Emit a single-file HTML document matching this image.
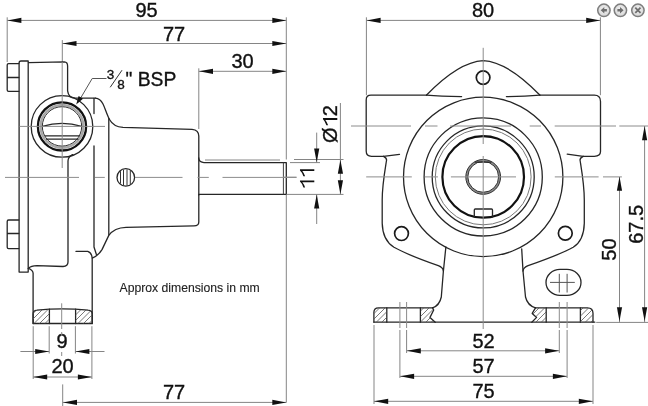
<!DOCTYPE html>
<html><head><meta charset="utf-8"><style>
html,body{margin:0;padding:0;background:#fff;width:648px;height:406px;overflow:hidden}
svg{display:block;filter:grayscale(1)}
.k{fill:none;stroke:#262626;stroke-width:1.3;stroke-linejoin:round;stroke-linecap:round}
.kb{fill:none;stroke:#1a1a1a;stroke-width:1.7}
.kt{fill:none;stroke:#111;stroke-width:2.6}
.kt2{fill:none;stroke:#111;stroke-width:2.3}
.kgb{fill:none;stroke:#a8a8a8;stroke-width:2.4}
.kgb2{fill:none;stroke:#8a8a8a;stroke-width:2.2}
.kgb3{fill:none;stroke:#b0b0b0;stroke-width:2.0}
.kt3{fill:none;stroke:#111;stroke-width:2.2}
.kg{fill:none;stroke:#777;stroke-width:1.0}
.k1{fill:none;stroke:#333;stroke-width:1.0}
.k2{fill:none;stroke:#444;stroke-width:1.0}
.d{fill:none;stroke:#858585;stroke-width:1.0}
.d2{fill:none;stroke:#555;stroke-width:1.0}
.c{fill:none;stroke:#8c8c8c;stroke-width:1.0}
.h{stroke:#555;stroke-width:0.8}
.a{fill:#111;stroke:none}
.t{font-family:"Liberation Sans",sans-serif;fill:#111;stroke:#111;stroke-width:0.35}
</style></head><body>
<svg width="648" height="406" viewBox="0 0 648 406">
<line class="d" x1="7.2" y1="17.3" x2="7.2" y2="62"/>
<line class="d" x1="7.2" y1="20.4" x2="286.3" y2="20.4"/>
<polygon class="a" points="7.40,20.40 21.40,17.80 21.40,23.00"/>
<polygon class="a" points="286.30,20.40 272.30,17.80 272.30,23.00"/>
<text class="t" x="146.5" y="17.4" font-size="20" text-anchor="middle">95</text>
<line class="d" x1="62.3" y1="40.1" x2="62.3" y2="62"/>
<line class="d" x1="62.3" y1="43.5" x2="286.3" y2="43.5"/>
<polygon class="a" points="62.50,43.50 76.50,40.90 76.50,46.10"/>
<polygon class="a" points="286.30,43.50 272.30,40.90 272.30,46.10"/>
<text class="t" x="174" y="40.7" font-size="20" text-anchor="middle">77</text>
<line class="d" x1="198.8" y1="68.3" x2="198.8" y2="129"/>
<line class="d" x1="198.8" y1="71.3" x2="286.3" y2="71.3"/>
<polygon class="a" points="199.00,71.30 213.00,68.70 213.00,73.90"/>
<polygon class="a" points="286.30,71.30 272.30,68.70 272.30,73.90"/>
<text class="t" x="242.5" y="68.2" font-size="20" text-anchor="middle">30</text>
<line class="d" x1="286.3" y1="17.3" x2="286.3" y2="159.5"/>
<line class="d" x1="286.3" y1="195" x2="286.3" y2="402.5"/>
<path class="k" d="M18.8,63.6 H8.6 Q7.2,63.6 7.2,65 V90 Q7.2,91.4 8.6,91.4 H18.8 M7.2,77.5 H18.8"/>
<path class="k" d="M18.8,220 H8.6 Q7.2,220 7.2,221.4 V247.2 Q7.2,248.6 8.6,248.6 H18.8 M7.2,233.5 H18.8"/>
<path class="k" d="M19.1,272.1 V63 Q19.1,61 21,61 H28.2 V272.1 Z"/>
<path class="k" d="M28.5,62.7 L64.4,61.8 Q67.6,62 67.6,66 V90.8 Q68.5,97.6 75,98.2 L95.5,98.1 "/>
<path class="k" d="M95.5,98.1 C99,98.2 101,100 103,104 C105,108 107,115 109.5,119.5 C112,124 116,127 123,127.4 L192,129.3 Q198.8,130 198.8,136 V158.7 Q199.5,162.5 204,162.6 H286.3 V194.4 H198.8 V222 Q198.8,225.8 194,225.9 L126,227.3 C119,227.5 113,229.5 108.8,235.4 L102,249.6 C100,253 96,256.5 92.2,258.2 V323.5"/>
<path class="k" d="M72.5,154.6 Q68,157 68,161 V262 Q68,266.3 63,266.5 L37,265.7 Q31,266 28.2,268.4"/>
<path class="k" d="M94,113.5 V98.5"/>
<path class="k" d="M94,146 V247 L96.4,254.5"/>
<path class="k" d="M108.8,118.5 V234.8"/>
<path class="k" d="M76,251.4 H87.8 Q91.5,252.5 92.2,258"/>
<path class="k" d="M28.5,268.4 Q32.6,270 33.1,273 V323.5"/>
<line class="k2" x1="283.4" y1="162.6" x2="283.4" y2="194.4"/>
<line class="k" x1="198.8" y1="158" x2="198.8" y2="195"/>
<line class="d" x1="205" y1="160" x2="280" y2="160"/>
<path class="k" d="M33.1,323.5 V314 Q33.1,310.5 37,310.2 Q62,307.5 88,310.2 Q92.2,310.5 92.2,314 V323.5 Z"/>
<path class="k" d="M49.4,309.2 V323.5 M75.6,309.2 V323.5"/>
<circle class="k" cx="62" cy="126.4" r="30.8"/>
<circle class="kt2" cx="62" cy="126.4" r="24.1"/>
<circle class="kgb" cx="62" cy="126.4" r="21.4"/>
<circle class="k1" cx="62" cy="126.4" r="19.7"/>
<path class="k" d="M42.3,126.4 Q62,120.5 81.7,126.4"/>
<path class="k" d="M45.4,135.8 H79.3 M46.6,139.1 H78"/>
<circle class="k" cx="125.8" cy="177.4" r="8.8"/>
<line class="k1" x1="120.5" y1="171.17504448412663" x2="120.5" y2="183.62495551587338"/>
<line class="k1" x1="123.5" y1="169.70588438976725" x2="123.5" y2="185.09411561023276"/>
<line class="k1" x1="127" y1="169.48220211291866" x2="127" y2="185.31779788708135"/>
<line class="k1" x1="130.3" y1="170.63759297577818" x2="130.3" y2="184.16240702422184"/>
<path class="d2" d="M106.5,78.5 H92.2 L78,102.5"/>
<polygon class="a" points="76.2,104.6 78.6,96.1 83.0,98.8"/>
<line class="c" x1="62.2" y1="62" x2="62.2" y2="168"/>
<line class="c" x1="19.5" y1="126.4" x2="105" y2="126.4"/>
<line class="c" x1="5" y1="177.4" x2="79" y2="177.4"/>
<line class="c" x1="95" y1="177.4" x2="104.8" y2="177.4"/>
<line class="c" x1="135" y1="177.4" x2="182.5" y2="177.4"/>
<line class="c" x1="197.5" y1="177.4" x2="208.8" y2="177.4"/>
<line class="c" x1="222.5" y1="177.4" x2="296.5" y2="177.4"/>
<line class="c" x1="61.7" y1="303.3" x2="61.7" y2="329"/>
<line class="d" x1="33.2" y1="326.2" x2="33.2" y2="379"/>
<line class="d" x1="49.2" y1="326.2" x2="49.2" y2="353.5"/>
<line class="d" x1="75.4" y1="326.2" x2="75.4" y2="353.5"/>
<line class="d" x1="91.9" y1="326.2" x2="91.9" y2="379"/>
<line class="d" x1="20.4" y1="351.5" x2="49.2" y2="351.5"/>
<polygon class="a" points="49.20,351.50 35.20,348.90 35.20,354.10"/>
<line class="d" x1="75.4" y1="351.5" x2="104.5" y2="351.5"/>
<polygon class="a" points="75.40,351.50 89.40,348.90 89.40,354.10"/>
<text class="t" x="62" y="348.2" font-size="20" text-anchor="middle">9</text>
<line class="d" x1="33.2" y1="377" x2="91.9" y2="377"/>
<polygon class="a" points="33.20,377.00 47.20,374.40 47.20,379.60"/>
<polygon class="a" points="91.90,377.00 77.90,374.40 77.90,379.60"/>
<text class="t" x="62.5" y="372.8" font-size="20" text-anchor="middle">20</text>
<line class="c" x1="61.7" y1="332" x2="61.7" y2="336"/>
<line class="c" x1="61.7" y1="352" x2="61.7" y2="356"/>
<line class="d" x1="62.7" y1="384.4" x2="62.7" y2="406"/>
<line class="d" x1="62.7" y1="402.4" x2="286.3" y2="402.4"/>
<polygon class="a" points="63.00,402.40 77.00,399.80 77.00,405.00"/>
<polygon class="a" points="286.30,402.40 272.30,399.80 272.30,405.00"/>
<text class="t" x="174" y="399.3" font-size="20" text-anchor="middle">77</text>
<text class="t" x="119.5" y="292" font-size="12.2" style="stroke-width:0.12;fill:#222;stroke:#222">Approx dimensions in mm</text>
<text class="t" x="106.8" y="79.3" font-size="13.5" text-anchor="start">3</text>
<text class="t" x="117.3" y="89.2" font-size="13.5" text-anchor="start">8</text>
<line class="k1" x1="110.2" y1="87.3" x2="122" y2="70.2"/>
<text class="t" x="125.5" y="85.5" font-size="19.3" text-anchor="start">&quot; BSP</text>
<line class="d" x1="294" y1="159.5" x2="343.5" y2="159.5"/>
<line class="d" x1="290" y1="162.6" x2="320" y2="162.6"/>
<line class="d" x1="286.3" y1="194.4" x2="343.5" y2="194.4"/>
<line class="d" x1="340.4" y1="103" x2="340.4" y2="194.4"/>
<polygon class="a" points="340.40,159.70 337.80,173.70 343.00,173.70"/>
<polygon class="a" points="340.40,194.20 337.80,180.20 343.00,180.20"/>
<line class="d" x1="316.7" y1="132.6" x2="316.7" y2="162.6"/>
<polygon class="a" points="316.70,162.60 314.10,148.60 319.30,148.60"/>
<line class="d" x1="316.7" y1="194.4" x2="316.7" y2="224"/>
<polygon class="a" points="316.70,194.60 314.10,208.60 319.30,208.60"/>
<g transform="translate(337.3 124) rotate(-90)"><text class="t" x="-18.90" y="0" font-size="20">Ø</text><path class="a" d="M4.12,0.00L5.90,0.00L5.90,-14.32L4.74,-14.32Q3.26,-12.40 -1.20,-10.90L-1.20,-9.18Q2.26,-10.40 4.12,-11.96Z"/><text class="t" x="7.78" y="0" font-size="20">2</text></g>
<g transform="translate(314.3 178.5) rotate(-90)"><path class="a" d="M-3.66,0.00L-1.88,0.00L-1.88,-14.32L-3.04,-14.32Q-4.52,-12.40 -8.98,-10.90L-8.98,-9.18Q-5.52,-10.40 -3.66,-11.96Z"/><path class="a" d="M7.46,0.00L9.24,0.00L9.24,-14.32L8.08,-14.32Q6.60,-12.40 2.14,-10.90L2.14,-9.18Q5.60,-10.40 7.46,-11.96Z"/></g>
<line class="c" x1="283" y1="177.2" x2="296.5" y2="177.2"/>
<line class="d" x1="366.4" y1="17.3" x2="366.4" y2="95.2"/>
<line class="d" x1="600.4" y1="17.3" x2="600.4" y2="95.2"/>
<line class="d" x1="366.4" y1="20.4" x2="600.4" y2="20.4"/>
<polygon class="a" points="366.60,20.40 380.60,17.80 380.60,23.00"/>
<polygon class="a" points="600.20,20.40 586.20,17.80 586.20,23.00"/>
<text class="t" x="483" y="17.4" font-size="20" text-anchor="middle">80</text>
<path class="k" d="M426.4,95.2 H371 Q366.2,95.2 366.2,100 V151 Q366.2,156.3 371.5,156.3 H383.5 L399.5,154.4"/>
<path class="k" d="M539.8,95.2 H594.3 Q600.5,95.2 600.5,101.4 V151.6 Q600.5,156.3 594.3,156.3 H583.2 L567.2,154.1"/>
<path class="k" d="M426.6,95 C445,76 465,61.6 483.2,60.6 C501.4,61.6 521.4,76 539.8,95"/>
<path class="k" d="M426.4,95.2 Q440,96.6 461.6,96.6 M506.4,96.6 Q525,96.6 539.8,95.2"/>
<circle class="kb" cx="483.1" cy="77.6" r="6.8"/>
<path class="k" d="M383.5,156.3 Q387,158 386.5,160.5 C385,170 382.2,185 382.2,200 V223.3 C382.5,236 387,243 394,247.3 C405,253.5 425,261 438.3,265.7 Q443,267.5 443.4,271"/>
<path class="k" d="M583.2,156.3 Q579.6,158 580.1,160.5 C581.6,170 584.3,185 584.3,200 V223.3 C584,236 580.2,243 573.2,247.3 C562.2,253.5 541.4,261 528.1,265.7 Q523.4,267.5 523,271"/>
<path class="k" d="M445.9,246.8 L443.4,271 L441.3,297 Q439.5,305.5 432.6,307.8"/>
<path class="k" d="M521.7,248.9 L523,271 L525.5,297 Q527.5,305.5 535.5,307.8"/>
<path class="k" d="M432.6,307.8 H378.5 Q373.9,307.8 373.9,312.3 V322.2"/>
<path class="k" d="M535.5,307.8 H587.5 Q593,307.8 593,313.3 V322.2"/>
<line class="k" x1="373.9" y1="322.2" x2="594.8" y2="322.2"/>
<path class="k" d="M386.8,307.8 V322.2 M420.4,307.8 V322.2 M546.2,307.8 V322.2 M580.4,307.8 V322.2"/>
<path class="k" d="M432.6,307.8 L433.7,310 L430,317.4 L435.2,322.2"/>
<path class="k" d="M535.5,307.8 L532.2,313.4 L536.6,317.4 L531.8,322.2"/>
<circle class="k" cx="483.2" cy="176.9" r="79.7"/>
<circle class="k" cx="483.2" cy="176.9" r="59.1"/>
<circle class="k" cx="483.2" cy="176.9" r="51"/>
<circle class="kg" cx="483.2" cy="176.9" r="47.9"/>
<circle class="kt3" cx="483.2" cy="176.9" r="40.8"/>
<circle class="kgb2" cx="483.2" cy="176.9" r="16.4"/>
<circle class="k1" cx="483.2" cy="176.9" r="17.4"/>
<circle class="k1" cx="483.2" cy="176.9" r="15.4"/>
<path class="k" d="M475.4,162.1 H491"/>
<path class="k" d="M474.3,217 V210 Q474.3,209 475.3,209 H491.5 Q492.5,209 492.5,210 V217"/>
<circle class="kb" cx="401.5" cy="233.6" r="6.9"/>
<circle class="kb" cx="565.3" cy="233.2" r="6.9"/>
<rect class="k" x="546" y="269.4" width="35" height="26" rx="14" ry="13"/>
<line class="d2" x1="550" y1="282.4" x2="574.8" y2="282.4"/>
<line class="d2" x1="559.3" y1="273.8" x2="559.3" y2="292.5"/>
<line class="d2" x1="567.1" y1="273.8" x2="567.1" y2="292.5"/>
<line class="c" x1="483.2" y1="47.8" x2="483.2" y2="144"/>
<line class="c" x1="483.2" y1="156" x2="483.2" y2="329"/>
<line class="c" x1="351" y1="126" x2="411" y2="126"/>
<line class="c" x1="425" y1="126" x2="437.5" y2="126"/>
<line class="c" x1="450" y1="126" x2="511" y2="126"/>
<line class="c" x1="529.7" y1="126" x2="541" y2="126"/>
<line class="c" x1="554.7" y1="126" x2="616" y2="126"/>
<line class="c" x1="619.3" y1="126" x2="648" y2="126"/>
<line class="c" x1="366.2" y1="176.9" x2="411.8" y2="176.9"/>
<line class="c" x1="424.8" y1="176.9" x2="437.9" y2="176.9"/>
<line class="c" x1="450.9" y1="176.9" x2="516" y2="176.9"/>
<line class="c" x1="554.8" y1="176.9" x2="598.6" y2="176.9"/>
<line class="c" x1="603" y1="176.9" x2="621.9" y2="176.9"/>
<line class="c" x1="399.9" y1="302" x2="399.9" y2="328"/>
<line class="c" x1="406.6" y1="302" x2="406.6" y2="328"/>
<line class="c" x1="559.3" y1="302" x2="559.3" y2="328"/>
<line class="c" x1="567.1" y1="302" x2="567.1" y2="328"/>
<line class="d" x1="374" y1="325" x2="374" y2="404"/>
<line class="d" x1="593" y1="325" x2="593" y2="404"/>
<line class="d" x1="399.9" y1="330" x2="399.9" y2="378"/>
<line class="d" x1="406.6" y1="330" x2="406.6" y2="353"/>
<line class="d" x1="559.3" y1="330" x2="559.3" y2="353"/>
<line class="d" x1="567.1" y1="330" x2="567.1" y2="378"/>
<line class="d" x1="406.6" y1="350.8" x2="559.3" y2="350.8"/>
<polygon class="a" points="406.80,350.80 420.80,348.20 420.80,353.40"/>
<polygon class="a" points="559.10,350.80 545.10,348.20 545.10,353.40"/>
<text class="t" x="483.5" y="347.5" font-size="20" text-anchor="middle">52</text>
<line class="d" x1="399.9" y1="376.3" x2="567.1" y2="376.3"/>
<polygon class="a" points="400.10,376.30 414.10,373.70 414.10,378.90"/>
<polygon class="a" points="566.90,376.30 552.90,373.70 552.90,378.90"/>
<text class="t" x="483.5" y="373" font-size="20" text-anchor="middle">57</text>
<line class="d" x1="374" y1="401.3" x2="593" y2="401.3"/>
<polygon class="a" points="374.20,401.30 388.20,398.70 388.20,403.90"/>
<polygon class="a" points="592.80,401.30 578.80,398.70 578.80,403.90"/>
<text class="t" x="483.5" y="398" font-size="20" text-anchor="middle">75</text>
<line class="d" x1="596.2" y1="322.4" x2="648" y2="322.4"/>
<line class="d" x1="619.5" y1="177" x2="619.5" y2="322.4"/>
<polygon class="a" points="619.50,176.80 616.90,190.80 622.10,190.80"/>
<polygon class="a" points="619.50,321.20 616.90,307.20 622.10,307.20"/>
<line class="d" x1="644.6" y1="126" x2="644.6" y2="322.4"/>
<polygon class="a" points="644.60,126.30 642.00,140.30 647.20,140.30"/>
<polygon class="a" points="644.60,321.20 642.00,307.20 647.20,307.20"/>
<text class="t" x="616" y="249.5" font-size="20" text-anchor="middle" transform="rotate(-90 616 249.5)">50</text>
<text class="t" x="643" y="224.3" font-size="20" text-anchor="middle" transform="rotate(-90 643 224.3)">67.5</text>
<defs><radialGradient id="bg" cx="0.5" cy="0.45" r="0.55"><stop offset="0" stop-color="#f6f6f6"/><stop offset="1" stop-color="#d4d4d4"/></radialGradient></defs>
<circle cx="603.9" cy="10.3" r="6.2" fill="url(#bg)" stroke="#7e7e7e" stroke-width="1.5"/>
<polygon points="600.6999999999999,10.3 604.3,7.1000000000000005 604.3,9.0 606.9,9.0 606.9,11.600000000000001 604.3,11.600000000000001 604.3,13.5" fill="#6e6e6e"/>
<circle cx="620.4" cy="10.3" r="6.2" fill="url(#bg)" stroke="#7e7e7e" stroke-width="1.5"/>
<polygon points="623.6,10.3 620.0,7.1000000000000005 620.0,9.0 617.4,9.0 617.4,11.600000000000001 620.0,11.600000000000001 620.0,13.5" fill="#6e6e6e"/>
<circle cx="637.9" cy="10.3" r="6.2" fill="url(#bg)" stroke="#7e7e7e" stroke-width="1.5"/>
<path d="M635.3,7.700000000000001 L640.5,12.9 M640.5,7.700000000000001 L635.3,12.9" stroke="#6e6e6e" stroke-width="1.8"/>
<clipPath id="h1"><path d="M33.1,323.5 V314 Q33.1,310.5 37,310.2 L49.4,309.3 V323.5 Z"/></clipPath>
<g clip-path="url(#h1)"><line class="h" x1="-55.0" y1="330" x2="-25.0" y2="300"/><line class="h" x1="-49.5" y1="330" x2="-19.5" y2="300"/><line class="h" x1="-44.0" y1="330" x2="-14.0" y2="300"/><line class="h" x1="-38.5" y1="330" x2="-8.5" y2="300"/><line class="h" x1="-33.0" y1="330" x2="-3.0" y2="300"/><line class="h" x1="-27.5" y1="330" x2="2.5" y2="300"/><line class="h" x1="-22.0" y1="330" x2="8.0" y2="300"/><line class="h" x1="-16.5" y1="330" x2="13.5" y2="300"/><line class="h" x1="-11.0" y1="330" x2="19.0" y2="300"/><line class="h" x1="-5.5" y1="330" x2="24.5" y2="300"/><line class="h" x1="0.0" y1="330" x2="30.0" y2="300"/><line class="h" x1="5.5" y1="330" x2="35.5" y2="300"/><line class="h" x1="11.0" y1="330" x2="41.0" y2="300"/><line class="h" x1="16.5" y1="330" x2="46.5" y2="300"/><line class="h" x1="22.0" y1="330" x2="52.0" y2="300"/><line class="h" x1="27.5" y1="330" x2="57.5" y2="300"/><line class="h" x1="33.0" y1="330" x2="63.0" y2="300"/><line class="h" x1="38.5" y1="330" x2="68.5" y2="300"/><line class="h" x1="44.0" y1="330" x2="74.0" y2="300"/><line class="h" x1="49.5" y1="330" x2="79.5" y2="300"/><line class="h" x1="55.0" y1="330" x2="85.0" y2="300"/><line class="h" x1="60.5" y1="330" x2="90.5" y2="300"/><line class="h" x1="66.0" y1="330" x2="96.0" y2="300"/><line class="h" x1="71.5" y1="330" x2="101.5" y2="300"/><line class="h" x1="77.0" y1="330" x2="107.0" y2="300"/><line class="h" x1="82.5" y1="330" x2="112.5" y2="300"/><line class="h" x1="88.0" y1="330" x2="118.0" y2="300"/><line class="h" x1="93.5" y1="330" x2="123.5" y2="300"/><line class="h" x1="99.0" y1="330" x2="129.0" y2="300"/><line class="h" x1="104.5" y1="330" x2="134.5" y2="300"/><line class="h" x1="110.0" y1="330" x2="140.0" y2="300"/><line class="h" x1="115.5" y1="330" x2="145.5" y2="300"/><line class="h" x1="121.0" y1="330" x2="151.0" y2="300"/><line class="h" x1="126.5" y1="330" x2="156.5" y2="300"/><line class="h" x1="132.0" y1="330" x2="162.0" y2="300"/><line class="h" x1="137.5" y1="330" x2="167.5" y2="300"/><line class="h" x1="143.0" y1="330" x2="173.0" y2="300"/><line class="h" x1="148.5" y1="330" x2="178.5" y2="300"/><line class="h" x1="154.0" y1="330" x2="184.0" y2="300"/><line class="h" x1="159.5" y1="330" x2="189.5" y2="300"/><line class="h" x1="165.0" y1="330" x2="195.0" y2="300"/><line class="h" x1="170.5" y1="330" x2="200.5" y2="300"/><line class="h" x1="176.0" y1="330" x2="206.0" y2="300"/><line class="h" x1="181.5" y1="330" x2="211.5" y2="300"/><line class="h" x1="187.0" y1="330" x2="217.0" y2="300"/><line class="h" x1="192.5" y1="330" x2="222.5" y2="300"/><line class="h" x1="198.0" y1="330" x2="228.0" y2="300"/><line class="h" x1="203.5" y1="330" x2="233.5" y2="300"/><line class="h" x1="209.0" y1="330" x2="239.0" y2="300"/><line class="h" x1="214.5" y1="330" x2="244.5" y2="300"/><line class="h" x1="220.0" y1="330" x2="250.0" y2="300"/><line class="h" x1="225.5" y1="330" x2="255.5" y2="300"/><line class="h" x1="231.0" y1="330" x2="261.0" y2="300"/><line class="h" x1="236.5" y1="330" x2="266.5" y2="300"/><line class="h" x1="242.0" y1="330" x2="272.0" y2="300"/><line class="h" x1="247.5" y1="330" x2="277.5" y2="300"/><line class="h" x1="253.0" y1="330" x2="283.0" y2="300"/><line class="h" x1="258.5" y1="330" x2="288.5" y2="300"/><line class="h" x1="264.0" y1="330" x2="294.0" y2="300"/><line class="h" x1="269.5" y1="330" x2="299.5" y2="300"/><line class="h" x1="275.0" y1="330" x2="305.0" y2="300"/><line class="h" x1="280.5" y1="330" x2="310.5" y2="300"/><line class="h" x1="286.0" y1="330" x2="316.0" y2="300"/><line class="h" x1="291.5" y1="330" x2="321.5" y2="300"/><line class="h" x1="297.0" y1="330" x2="327.0" y2="300"/><line class="h" x1="302.5" y1="330" x2="332.5" y2="300"/><line class="h" x1="308.0" y1="330" x2="338.0" y2="300"/><line class="h" x1="313.5" y1="330" x2="343.5" y2="300"/><line class="h" x1="319.0" y1="330" x2="349.0" y2="300"/><line class="h" x1="324.5" y1="330" x2="354.5" y2="300"/><line class="h" x1="330.0" y1="330" x2="360.0" y2="300"/><line class="h" x1="335.5" y1="330" x2="365.5" y2="300"/><line class="h" x1="341.0" y1="330" x2="371.0" y2="300"/><line class="h" x1="346.5" y1="330" x2="376.5" y2="300"/><line class="h" x1="352.0" y1="330" x2="382.0" y2="300"/><line class="h" x1="357.5" y1="330" x2="387.5" y2="300"/><line class="h" x1="363.0" y1="330" x2="393.0" y2="300"/><line class="h" x1="368.5" y1="330" x2="398.5" y2="300"/><line class="h" x1="374.0" y1="330" x2="404.0" y2="300"/><line class="h" x1="379.5" y1="330" x2="409.5" y2="300"/><line class="h" x1="385.0" y1="330" x2="415.0" y2="300"/><line class="h" x1="390.5" y1="330" x2="420.5" y2="300"/><line class="h" x1="396.0" y1="330" x2="426.0" y2="300"/><line class="h" x1="401.5" y1="330" x2="431.5" y2="300"/><line class="h" x1="407.0" y1="330" x2="437.0" y2="300"/><line class="h" x1="412.5" y1="330" x2="442.5" y2="300"/><line class="h" x1="418.0" y1="330" x2="448.0" y2="300"/><line class="h" x1="423.5" y1="330" x2="453.5" y2="300"/><line class="h" x1="429.0" y1="330" x2="459.0" y2="300"/><line class="h" x1="434.5" y1="330" x2="464.5" y2="300"/><line class="h" x1="440.0" y1="330" x2="470.0" y2="300"/><line class="h" x1="445.5" y1="330" x2="475.5" y2="300"/><line class="h" x1="451.0" y1="330" x2="481.0" y2="300"/><line class="h" x1="456.5" y1="330" x2="486.5" y2="300"/><line class="h" x1="462.0" y1="330" x2="492.0" y2="300"/><line class="h" x1="467.5" y1="330" x2="497.5" y2="300"/><line class="h" x1="473.0" y1="330" x2="503.0" y2="300"/><line class="h" x1="478.5" y1="330" x2="508.5" y2="300"/><line class="h" x1="484.0" y1="330" x2="514.0" y2="300"/><line class="h" x1="489.5" y1="330" x2="519.5" y2="300"/><line class="h" x1="495.0" y1="330" x2="525.0" y2="300"/><line class="h" x1="500.5" y1="330" x2="530.5" y2="300"/><line class="h" x1="506.0" y1="330" x2="536.0" y2="300"/><line class="h" x1="511.5" y1="330" x2="541.5" y2="300"/><line class="h" x1="517.0" y1="330" x2="547.0" y2="300"/><line class="h" x1="522.5" y1="330" x2="552.5" y2="300"/><line class="h" x1="528.0" y1="330" x2="558.0" y2="300"/><line class="h" x1="533.5" y1="330" x2="563.5" y2="300"/><line class="h" x1="539.0" y1="330" x2="569.0" y2="300"/><line class="h" x1="544.5" y1="330" x2="574.5" y2="300"/><line class="h" x1="550.0" y1="330" x2="580.0" y2="300"/><line class="h" x1="555.5" y1="330" x2="585.5" y2="300"/><line class="h" x1="561.0" y1="330" x2="591.0" y2="300"/><line class="h" x1="566.5" y1="330" x2="596.5" y2="300"/><line class="h" x1="572.0" y1="330" x2="602.0" y2="300"/><line class="h" x1="577.5" y1="330" x2="607.5" y2="300"/><line class="h" x1="583.0" y1="330" x2="613.0" y2="300"/><line class="h" x1="588.5" y1="330" x2="618.5" y2="300"/><line class="h" x1="594.0" y1="330" x2="624.0" y2="300"/><line class="h" x1="599.5" y1="330" x2="629.5" y2="300"/><line class="h" x1="605.0" y1="330" x2="635.0" y2="300"/><line class="h" x1="610.5" y1="330" x2="640.5" y2="300"/><line class="h" x1="616.0" y1="330" x2="646.0" y2="300"/><line class="h" x1="621.5" y1="330" x2="651.5" y2="300"/><line class="h" x1="627.0" y1="330" x2="657.0" y2="300"/><line class="h" x1="632.5" y1="330" x2="662.5" y2="300"/><line class="h" x1="638.0" y1="330" x2="668.0" y2="300"/><line class="h" x1="643.5" y1="330" x2="673.5" y2="300"/><line class="h" x1="649.0" y1="330" x2="679.0" y2="300"/><line class="h" x1="654.5" y1="330" x2="684.5" y2="300"/></g>
<clipPath id="h2"><path d="M75.6,309.3 L88,310.2 Q92.2,310.5 92.2,314 V323.5 H75.6 Z"/></clipPath>
<g clip-path="url(#h2)"><line class="h" x1="-55.0" y1="330" x2="-25.0" y2="300"/><line class="h" x1="-49.5" y1="330" x2="-19.5" y2="300"/><line class="h" x1="-44.0" y1="330" x2="-14.0" y2="300"/><line class="h" x1="-38.5" y1="330" x2="-8.5" y2="300"/><line class="h" x1="-33.0" y1="330" x2="-3.0" y2="300"/><line class="h" x1="-27.5" y1="330" x2="2.5" y2="300"/><line class="h" x1="-22.0" y1="330" x2="8.0" y2="300"/><line class="h" x1="-16.5" y1="330" x2="13.5" y2="300"/><line class="h" x1="-11.0" y1="330" x2="19.0" y2="300"/><line class="h" x1="-5.5" y1="330" x2="24.5" y2="300"/><line class="h" x1="0.0" y1="330" x2="30.0" y2="300"/><line class="h" x1="5.5" y1="330" x2="35.5" y2="300"/><line class="h" x1="11.0" y1="330" x2="41.0" y2="300"/><line class="h" x1="16.5" y1="330" x2="46.5" y2="300"/><line class="h" x1="22.0" y1="330" x2="52.0" y2="300"/><line class="h" x1="27.5" y1="330" x2="57.5" y2="300"/><line class="h" x1="33.0" y1="330" x2="63.0" y2="300"/><line class="h" x1="38.5" y1="330" x2="68.5" y2="300"/><line class="h" x1="44.0" y1="330" x2="74.0" y2="300"/><line class="h" x1="49.5" y1="330" x2="79.5" y2="300"/><line class="h" x1="55.0" y1="330" x2="85.0" y2="300"/><line class="h" x1="60.5" y1="330" x2="90.5" y2="300"/><line class="h" x1="66.0" y1="330" x2="96.0" y2="300"/><line class="h" x1="71.5" y1="330" x2="101.5" y2="300"/><line class="h" x1="77.0" y1="330" x2="107.0" y2="300"/><line class="h" x1="82.5" y1="330" x2="112.5" y2="300"/><line class="h" x1="88.0" y1="330" x2="118.0" y2="300"/><line class="h" x1="93.5" y1="330" x2="123.5" y2="300"/><line class="h" x1="99.0" y1="330" x2="129.0" y2="300"/><line class="h" x1="104.5" y1="330" x2="134.5" y2="300"/><line class="h" x1="110.0" y1="330" x2="140.0" y2="300"/><line class="h" x1="115.5" y1="330" x2="145.5" y2="300"/><line class="h" x1="121.0" y1="330" x2="151.0" y2="300"/><line class="h" x1="126.5" y1="330" x2="156.5" y2="300"/><line class="h" x1="132.0" y1="330" x2="162.0" y2="300"/><line class="h" x1="137.5" y1="330" x2="167.5" y2="300"/><line class="h" x1="143.0" y1="330" x2="173.0" y2="300"/><line class="h" x1="148.5" y1="330" x2="178.5" y2="300"/><line class="h" x1="154.0" y1="330" x2="184.0" y2="300"/><line class="h" x1="159.5" y1="330" x2="189.5" y2="300"/><line class="h" x1="165.0" y1="330" x2="195.0" y2="300"/><line class="h" x1="170.5" y1="330" x2="200.5" y2="300"/><line class="h" x1="176.0" y1="330" x2="206.0" y2="300"/><line class="h" x1="181.5" y1="330" x2="211.5" y2="300"/><line class="h" x1="187.0" y1="330" x2="217.0" y2="300"/><line class="h" x1="192.5" y1="330" x2="222.5" y2="300"/><line class="h" x1="198.0" y1="330" x2="228.0" y2="300"/><line class="h" x1="203.5" y1="330" x2="233.5" y2="300"/><line class="h" x1="209.0" y1="330" x2="239.0" y2="300"/><line class="h" x1="214.5" y1="330" x2="244.5" y2="300"/><line class="h" x1="220.0" y1="330" x2="250.0" y2="300"/><line class="h" x1="225.5" y1="330" x2="255.5" y2="300"/><line class="h" x1="231.0" y1="330" x2="261.0" y2="300"/><line class="h" x1="236.5" y1="330" x2="266.5" y2="300"/><line class="h" x1="242.0" y1="330" x2="272.0" y2="300"/><line class="h" x1="247.5" y1="330" x2="277.5" y2="300"/><line class="h" x1="253.0" y1="330" x2="283.0" y2="300"/><line class="h" x1="258.5" y1="330" x2="288.5" y2="300"/><line class="h" x1="264.0" y1="330" x2="294.0" y2="300"/><line class="h" x1="269.5" y1="330" x2="299.5" y2="300"/><line class="h" x1="275.0" y1="330" x2="305.0" y2="300"/><line class="h" x1="280.5" y1="330" x2="310.5" y2="300"/><line class="h" x1="286.0" y1="330" x2="316.0" y2="300"/><line class="h" x1="291.5" y1="330" x2="321.5" y2="300"/><line class="h" x1="297.0" y1="330" x2="327.0" y2="300"/><line class="h" x1="302.5" y1="330" x2="332.5" y2="300"/><line class="h" x1="308.0" y1="330" x2="338.0" y2="300"/><line class="h" x1="313.5" y1="330" x2="343.5" y2="300"/><line class="h" x1="319.0" y1="330" x2="349.0" y2="300"/><line class="h" x1="324.5" y1="330" x2="354.5" y2="300"/><line class="h" x1="330.0" y1="330" x2="360.0" y2="300"/><line class="h" x1="335.5" y1="330" x2="365.5" y2="300"/><line class="h" x1="341.0" y1="330" x2="371.0" y2="300"/><line class="h" x1="346.5" y1="330" x2="376.5" y2="300"/><line class="h" x1="352.0" y1="330" x2="382.0" y2="300"/><line class="h" x1="357.5" y1="330" x2="387.5" y2="300"/><line class="h" x1="363.0" y1="330" x2="393.0" y2="300"/><line class="h" x1="368.5" y1="330" x2="398.5" y2="300"/><line class="h" x1="374.0" y1="330" x2="404.0" y2="300"/><line class="h" x1="379.5" y1="330" x2="409.5" y2="300"/><line class="h" x1="385.0" y1="330" x2="415.0" y2="300"/><line class="h" x1="390.5" y1="330" x2="420.5" y2="300"/><line class="h" x1="396.0" y1="330" x2="426.0" y2="300"/><line class="h" x1="401.5" y1="330" x2="431.5" y2="300"/><line class="h" x1="407.0" y1="330" x2="437.0" y2="300"/><line class="h" x1="412.5" y1="330" x2="442.5" y2="300"/><line class="h" x1="418.0" y1="330" x2="448.0" y2="300"/><line class="h" x1="423.5" y1="330" x2="453.5" y2="300"/><line class="h" x1="429.0" y1="330" x2="459.0" y2="300"/><line class="h" x1="434.5" y1="330" x2="464.5" y2="300"/><line class="h" x1="440.0" y1="330" x2="470.0" y2="300"/><line class="h" x1="445.5" y1="330" x2="475.5" y2="300"/><line class="h" x1="451.0" y1="330" x2="481.0" y2="300"/><line class="h" x1="456.5" y1="330" x2="486.5" y2="300"/><line class="h" x1="462.0" y1="330" x2="492.0" y2="300"/><line class="h" x1="467.5" y1="330" x2="497.5" y2="300"/><line class="h" x1="473.0" y1="330" x2="503.0" y2="300"/><line class="h" x1="478.5" y1="330" x2="508.5" y2="300"/><line class="h" x1="484.0" y1="330" x2="514.0" y2="300"/><line class="h" x1="489.5" y1="330" x2="519.5" y2="300"/><line class="h" x1="495.0" y1="330" x2="525.0" y2="300"/><line class="h" x1="500.5" y1="330" x2="530.5" y2="300"/><line class="h" x1="506.0" y1="330" x2="536.0" y2="300"/><line class="h" x1="511.5" y1="330" x2="541.5" y2="300"/><line class="h" x1="517.0" y1="330" x2="547.0" y2="300"/><line class="h" x1="522.5" y1="330" x2="552.5" y2="300"/><line class="h" x1="528.0" y1="330" x2="558.0" y2="300"/><line class="h" x1="533.5" y1="330" x2="563.5" y2="300"/><line class="h" x1="539.0" y1="330" x2="569.0" y2="300"/><line class="h" x1="544.5" y1="330" x2="574.5" y2="300"/><line class="h" x1="550.0" y1="330" x2="580.0" y2="300"/><line class="h" x1="555.5" y1="330" x2="585.5" y2="300"/><line class="h" x1="561.0" y1="330" x2="591.0" y2="300"/><line class="h" x1="566.5" y1="330" x2="596.5" y2="300"/><line class="h" x1="572.0" y1="330" x2="602.0" y2="300"/><line class="h" x1="577.5" y1="330" x2="607.5" y2="300"/><line class="h" x1="583.0" y1="330" x2="613.0" y2="300"/><line class="h" x1="588.5" y1="330" x2="618.5" y2="300"/><line class="h" x1="594.0" y1="330" x2="624.0" y2="300"/><line class="h" x1="599.5" y1="330" x2="629.5" y2="300"/><line class="h" x1="605.0" y1="330" x2="635.0" y2="300"/><line class="h" x1="610.5" y1="330" x2="640.5" y2="300"/><line class="h" x1="616.0" y1="330" x2="646.0" y2="300"/><line class="h" x1="621.5" y1="330" x2="651.5" y2="300"/><line class="h" x1="627.0" y1="330" x2="657.0" y2="300"/><line class="h" x1="632.5" y1="330" x2="662.5" y2="300"/><line class="h" x1="638.0" y1="330" x2="668.0" y2="300"/><line class="h" x1="643.5" y1="330" x2="673.5" y2="300"/><line class="h" x1="649.0" y1="330" x2="679.0" y2="300"/><line class="h" x1="654.5" y1="330" x2="684.5" y2="300"/></g>
<clipPath id="h3"><path d="M386.6,308 H379 Q374,308 374,313 V322.5 H386.6 Z"/></clipPath>
<g clip-path="url(#h3)"><line class="h" x1="-55.0" y1="330" x2="-25.0" y2="300"/><line class="h" x1="-49.5" y1="330" x2="-19.5" y2="300"/><line class="h" x1="-44.0" y1="330" x2="-14.0" y2="300"/><line class="h" x1="-38.5" y1="330" x2="-8.5" y2="300"/><line class="h" x1="-33.0" y1="330" x2="-3.0" y2="300"/><line class="h" x1="-27.5" y1="330" x2="2.5" y2="300"/><line class="h" x1="-22.0" y1="330" x2="8.0" y2="300"/><line class="h" x1="-16.5" y1="330" x2="13.5" y2="300"/><line class="h" x1="-11.0" y1="330" x2="19.0" y2="300"/><line class="h" x1="-5.5" y1="330" x2="24.5" y2="300"/><line class="h" x1="0.0" y1="330" x2="30.0" y2="300"/><line class="h" x1="5.5" y1="330" x2="35.5" y2="300"/><line class="h" x1="11.0" y1="330" x2="41.0" y2="300"/><line class="h" x1="16.5" y1="330" x2="46.5" y2="300"/><line class="h" x1="22.0" y1="330" x2="52.0" y2="300"/><line class="h" x1="27.5" y1="330" x2="57.5" y2="300"/><line class="h" x1="33.0" y1="330" x2="63.0" y2="300"/><line class="h" x1="38.5" y1="330" x2="68.5" y2="300"/><line class="h" x1="44.0" y1="330" x2="74.0" y2="300"/><line class="h" x1="49.5" y1="330" x2="79.5" y2="300"/><line class="h" x1="55.0" y1="330" x2="85.0" y2="300"/><line class="h" x1="60.5" y1="330" x2="90.5" y2="300"/><line class="h" x1="66.0" y1="330" x2="96.0" y2="300"/><line class="h" x1="71.5" y1="330" x2="101.5" y2="300"/><line class="h" x1="77.0" y1="330" x2="107.0" y2="300"/><line class="h" x1="82.5" y1="330" x2="112.5" y2="300"/><line class="h" x1="88.0" y1="330" x2="118.0" y2="300"/><line class="h" x1="93.5" y1="330" x2="123.5" y2="300"/><line class="h" x1="99.0" y1="330" x2="129.0" y2="300"/><line class="h" x1="104.5" y1="330" x2="134.5" y2="300"/><line class="h" x1="110.0" y1="330" x2="140.0" y2="300"/><line class="h" x1="115.5" y1="330" x2="145.5" y2="300"/><line class="h" x1="121.0" y1="330" x2="151.0" y2="300"/><line class="h" x1="126.5" y1="330" x2="156.5" y2="300"/><line class="h" x1="132.0" y1="330" x2="162.0" y2="300"/><line class="h" x1="137.5" y1="330" x2="167.5" y2="300"/><line class="h" x1="143.0" y1="330" x2="173.0" y2="300"/><line class="h" x1="148.5" y1="330" x2="178.5" y2="300"/><line class="h" x1="154.0" y1="330" x2="184.0" y2="300"/><line class="h" x1="159.5" y1="330" x2="189.5" y2="300"/><line class="h" x1="165.0" y1="330" x2="195.0" y2="300"/><line class="h" x1="170.5" y1="330" x2="200.5" y2="300"/><line class="h" x1="176.0" y1="330" x2="206.0" y2="300"/><line class="h" x1="181.5" y1="330" x2="211.5" y2="300"/><line class="h" x1="187.0" y1="330" x2="217.0" y2="300"/><line class="h" x1="192.5" y1="330" x2="222.5" y2="300"/><line class="h" x1="198.0" y1="330" x2="228.0" y2="300"/><line class="h" x1="203.5" y1="330" x2="233.5" y2="300"/><line class="h" x1="209.0" y1="330" x2="239.0" y2="300"/><line class="h" x1="214.5" y1="330" x2="244.5" y2="300"/><line class="h" x1="220.0" y1="330" x2="250.0" y2="300"/><line class="h" x1="225.5" y1="330" x2="255.5" y2="300"/><line class="h" x1="231.0" y1="330" x2="261.0" y2="300"/><line class="h" x1="236.5" y1="330" x2="266.5" y2="300"/><line class="h" x1="242.0" y1="330" x2="272.0" y2="300"/><line class="h" x1="247.5" y1="330" x2="277.5" y2="300"/><line class="h" x1="253.0" y1="330" x2="283.0" y2="300"/><line class="h" x1="258.5" y1="330" x2="288.5" y2="300"/><line class="h" x1="264.0" y1="330" x2="294.0" y2="300"/><line class="h" x1="269.5" y1="330" x2="299.5" y2="300"/><line class="h" x1="275.0" y1="330" x2="305.0" y2="300"/><line class="h" x1="280.5" y1="330" x2="310.5" y2="300"/><line class="h" x1="286.0" y1="330" x2="316.0" y2="300"/><line class="h" x1="291.5" y1="330" x2="321.5" y2="300"/><line class="h" x1="297.0" y1="330" x2="327.0" y2="300"/><line class="h" x1="302.5" y1="330" x2="332.5" y2="300"/><line class="h" x1="308.0" y1="330" x2="338.0" y2="300"/><line class="h" x1="313.5" y1="330" x2="343.5" y2="300"/><line class="h" x1="319.0" y1="330" x2="349.0" y2="300"/><line class="h" x1="324.5" y1="330" x2="354.5" y2="300"/><line class="h" x1="330.0" y1="330" x2="360.0" y2="300"/><line class="h" x1="335.5" y1="330" x2="365.5" y2="300"/><line class="h" x1="341.0" y1="330" x2="371.0" y2="300"/><line class="h" x1="346.5" y1="330" x2="376.5" y2="300"/><line class="h" x1="352.0" y1="330" x2="382.0" y2="300"/><line class="h" x1="357.5" y1="330" x2="387.5" y2="300"/><line class="h" x1="363.0" y1="330" x2="393.0" y2="300"/><line class="h" x1="368.5" y1="330" x2="398.5" y2="300"/><line class="h" x1="374.0" y1="330" x2="404.0" y2="300"/><line class="h" x1="379.5" y1="330" x2="409.5" y2="300"/><line class="h" x1="385.0" y1="330" x2="415.0" y2="300"/><line class="h" x1="390.5" y1="330" x2="420.5" y2="300"/><line class="h" x1="396.0" y1="330" x2="426.0" y2="300"/><line class="h" x1="401.5" y1="330" x2="431.5" y2="300"/><line class="h" x1="407.0" y1="330" x2="437.0" y2="300"/><line class="h" x1="412.5" y1="330" x2="442.5" y2="300"/><line class="h" x1="418.0" y1="330" x2="448.0" y2="300"/><line class="h" x1="423.5" y1="330" x2="453.5" y2="300"/><line class="h" x1="429.0" y1="330" x2="459.0" y2="300"/><line class="h" x1="434.5" y1="330" x2="464.5" y2="300"/><line class="h" x1="440.0" y1="330" x2="470.0" y2="300"/><line class="h" x1="445.5" y1="330" x2="475.5" y2="300"/><line class="h" x1="451.0" y1="330" x2="481.0" y2="300"/><line class="h" x1="456.5" y1="330" x2="486.5" y2="300"/><line class="h" x1="462.0" y1="330" x2="492.0" y2="300"/><line class="h" x1="467.5" y1="330" x2="497.5" y2="300"/><line class="h" x1="473.0" y1="330" x2="503.0" y2="300"/><line class="h" x1="478.5" y1="330" x2="508.5" y2="300"/><line class="h" x1="484.0" y1="330" x2="514.0" y2="300"/><line class="h" x1="489.5" y1="330" x2="519.5" y2="300"/><line class="h" x1="495.0" y1="330" x2="525.0" y2="300"/><line class="h" x1="500.5" y1="330" x2="530.5" y2="300"/><line class="h" x1="506.0" y1="330" x2="536.0" y2="300"/><line class="h" x1="511.5" y1="330" x2="541.5" y2="300"/><line class="h" x1="517.0" y1="330" x2="547.0" y2="300"/><line class="h" x1="522.5" y1="330" x2="552.5" y2="300"/><line class="h" x1="528.0" y1="330" x2="558.0" y2="300"/><line class="h" x1="533.5" y1="330" x2="563.5" y2="300"/><line class="h" x1="539.0" y1="330" x2="569.0" y2="300"/><line class="h" x1="544.5" y1="330" x2="574.5" y2="300"/><line class="h" x1="550.0" y1="330" x2="580.0" y2="300"/><line class="h" x1="555.5" y1="330" x2="585.5" y2="300"/><line class="h" x1="561.0" y1="330" x2="591.0" y2="300"/><line class="h" x1="566.5" y1="330" x2="596.5" y2="300"/><line class="h" x1="572.0" y1="330" x2="602.0" y2="300"/><line class="h" x1="577.5" y1="330" x2="607.5" y2="300"/><line class="h" x1="583.0" y1="330" x2="613.0" y2="300"/><line class="h" x1="588.5" y1="330" x2="618.5" y2="300"/><line class="h" x1="594.0" y1="330" x2="624.0" y2="300"/><line class="h" x1="599.5" y1="330" x2="629.5" y2="300"/><line class="h" x1="605.0" y1="330" x2="635.0" y2="300"/><line class="h" x1="610.5" y1="330" x2="640.5" y2="300"/><line class="h" x1="616.0" y1="330" x2="646.0" y2="300"/><line class="h" x1="621.5" y1="330" x2="651.5" y2="300"/><line class="h" x1="627.0" y1="330" x2="657.0" y2="300"/><line class="h" x1="632.5" y1="330" x2="662.5" y2="300"/><line class="h" x1="638.0" y1="330" x2="668.0" y2="300"/><line class="h" x1="643.5" y1="330" x2="673.5" y2="300"/><line class="h" x1="649.0" y1="330" x2="679.0" y2="300"/><line class="h" x1="654.5" y1="330" x2="684.5" y2="300"/></g>
<clipPath id="h4"><path d="M420.6,308 H432.6 L433.7,310 L430,317.4 L435.2,322.2 H420.6 Z"/></clipPath>
<g clip-path="url(#h4)"><line class="h" x1="-55.0" y1="330" x2="-25.0" y2="300"/><line class="h" x1="-49.5" y1="330" x2="-19.5" y2="300"/><line class="h" x1="-44.0" y1="330" x2="-14.0" y2="300"/><line class="h" x1="-38.5" y1="330" x2="-8.5" y2="300"/><line class="h" x1="-33.0" y1="330" x2="-3.0" y2="300"/><line class="h" x1="-27.5" y1="330" x2="2.5" y2="300"/><line class="h" x1="-22.0" y1="330" x2="8.0" y2="300"/><line class="h" x1="-16.5" y1="330" x2="13.5" y2="300"/><line class="h" x1="-11.0" y1="330" x2="19.0" y2="300"/><line class="h" x1="-5.5" y1="330" x2="24.5" y2="300"/><line class="h" x1="0.0" y1="330" x2="30.0" y2="300"/><line class="h" x1="5.5" y1="330" x2="35.5" y2="300"/><line class="h" x1="11.0" y1="330" x2="41.0" y2="300"/><line class="h" x1="16.5" y1="330" x2="46.5" y2="300"/><line class="h" x1="22.0" y1="330" x2="52.0" y2="300"/><line class="h" x1="27.5" y1="330" x2="57.5" y2="300"/><line class="h" x1="33.0" y1="330" x2="63.0" y2="300"/><line class="h" x1="38.5" y1="330" x2="68.5" y2="300"/><line class="h" x1="44.0" y1="330" x2="74.0" y2="300"/><line class="h" x1="49.5" y1="330" x2="79.5" y2="300"/><line class="h" x1="55.0" y1="330" x2="85.0" y2="300"/><line class="h" x1="60.5" y1="330" x2="90.5" y2="300"/><line class="h" x1="66.0" y1="330" x2="96.0" y2="300"/><line class="h" x1="71.5" y1="330" x2="101.5" y2="300"/><line class="h" x1="77.0" y1="330" x2="107.0" y2="300"/><line class="h" x1="82.5" y1="330" x2="112.5" y2="300"/><line class="h" x1="88.0" y1="330" x2="118.0" y2="300"/><line class="h" x1="93.5" y1="330" x2="123.5" y2="300"/><line class="h" x1="99.0" y1="330" x2="129.0" y2="300"/><line class="h" x1="104.5" y1="330" x2="134.5" y2="300"/><line class="h" x1="110.0" y1="330" x2="140.0" y2="300"/><line class="h" x1="115.5" y1="330" x2="145.5" y2="300"/><line class="h" x1="121.0" y1="330" x2="151.0" y2="300"/><line class="h" x1="126.5" y1="330" x2="156.5" y2="300"/><line class="h" x1="132.0" y1="330" x2="162.0" y2="300"/><line class="h" x1="137.5" y1="330" x2="167.5" y2="300"/><line class="h" x1="143.0" y1="330" x2="173.0" y2="300"/><line class="h" x1="148.5" y1="330" x2="178.5" y2="300"/><line class="h" x1="154.0" y1="330" x2="184.0" y2="300"/><line class="h" x1="159.5" y1="330" x2="189.5" y2="300"/><line class="h" x1="165.0" y1="330" x2="195.0" y2="300"/><line class="h" x1="170.5" y1="330" x2="200.5" y2="300"/><line class="h" x1="176.0" y1="330" x2="206.0" y2="300"/><line class="h" x1="181.5" y1="330" x2="211.5" y2="300"/><line class="h" x1="187.0" y1="330" x2="217.0" y2="300"/><line class="h" x1="192.5" y1="330" x2="222.5" y2="300"/><line class="h" x1="198.0" y1="330" x2="228.0" y2="300"/><line class="h" x1="203.5" y1="330" x2="233.5" y2="300"/><line class="h" x1="209.0" y1="330" x2="239.0" y2="300"/><line class="h" x1="214.5" y1="330" x2="244.5" y2="300"/><line class="h" x1="220.0" y1="330" x2="250.0" y2="300"/><line class="h" x1="225.5" y1="330" x2="255.5" y2="300"/><line class="h" x1="231.0" y1="330" x2="261.0" y2="300"/><line class="h" x1="236.5" y1="330" x2="266.5" y2="300"/><line class="h" x1="242.0" y1="330" x2="272.0" y2="300"/><line class="h" x1="247.5" y1="330" x2="277.5" y2="300"/><line class="h" x1="253.0" y1="330" x2="283.0" y2="300"/><line class="h" x1="258.5" y1="330" x2="288.5" y2="300"/><line class="h" x1="264.0" y1="330" x2="294.0" y2="300"/><line class="h" x1="269.5" y1="330" x2="299.5" y2="300"/><line class="h" x1="275.0" y1="330" x2="305.0" y2="300"/><line class="h" x1="280.5" y1="330" x2="310.5" y2="300"/><line class="h" x1="286.0" y1="330" x2="316.0" y2="300"/><line class="h" x1="291.5" y1="330" x2="321.5" y2="300"/><line class="h" x1="297.0" y1="330" x2="327.0" y2="300"/><line class="h" x1="302.5" y1="330" x2="332.5" y2="300"/><line class="h" x1="308.0" y1="330" x2="338.0" y2="300"/><line class="h" x1="313.5" y1="330" x2="343.5" y2="300"/><line class="h" x1="319.0" y1="330" x2="349.0" y2="300"/><line class="h" x1="324.5" y1="330" x2="354.5" y2="300"/><line class="h" x1="330.0" y1="330" x2="360.0" y2="300"/><line class="h" x1="335.5" y1="330" x2="365.5" y2="300"/><line class="h" x1="341.0" y1="330" x2="371.0" y2="300"/><line class="h" x1="346.5" y1="330" x2="376.5" y2="300"/><line class="h" x1="352.0" y1="330" x2="382.0" y2="300"/><line class="h" x1="357.5" y1="330" x2="387.5" y2="300"/><line class="h" x1="363.0" y1="330" x2="393.0" y2="300"/><line class="h" x1="368.5" y1="330" x2="398.5" y2="300"/><line class="h" x1="374.0" y1="330" x2="404.0" y2="300"/><line class="h" x1="379.5" y1="330" x2="409.5" y2="300"/><line class="h" x1="385.0" y1="330" x2="415.0" y2="300"/><line class="h" x1="390.5" y1="330" x2="420.5" y2="300"/><line class="h" x1="396.0" y1="330" x2="426.0" y2="300"/><line class="h" x1="401.5" y1="330" x2="431.5" y2="300"/><line class="h" x1="407.0" y1="330" x2="437.0" y2="300"/><line class="h" x1="412.5" y1="330" x2="442.5" y2="300"/><line class="h" x1="418.0" y1="330" x2="448.0" y2="300"/><line class="h" x1="423.5" y1="330" x2="453.5" y2="300"/><line class="h" x1="429.0" y1="330" x2="459.0" y2="300"/><line class="h" x1="434.5" y1="330" x2="464.5" y2="300"/><line class="h" x1="440.0" y1="330" x2="470.0" y2="300"/><line class="h" x1="445.5" y1="330" x2="475.5" y2="300"/><line class="h" x1="451.0" y1="330" x2="481.0" y2="300"/><line class="h" x1="456.5" y1="330" x2="486.5" y2="300"/><line class="h" x1="462.0" y1="330" x2="492.0" y2="300"/><line class="h" x1="467.5" y1="330" x2="497.5" y2="300"/><line class="h" x1="473.0" y1="330" x2="503.0" y2="300"/><line class="h" x1="478.5" y1="330" x2="508.5" y2="300"/><line class="h" x1="484.0" y1="330" x2="514.0" y2="300"/><line class="h" x1="489.5" y1="330" x2="519.5" y2="300"/><line class="h" x1="495.0" y1="330" x2="525.0" y2="300"/><line class="h" x1="500.5" y1="330" x2="530.5" y2="300"/><line class="h" x1="506.0" y1="330" x2="536.0" y2="300"/><line class="h" x1="511.5" y1="330" x2="541.5" y2="300"/><line class="h" x1="517.0" y1="330" x2="547.0" y2="300"/><line class="h" x1="522.5" y1="330" x2="552.5" y2="300"/><line class="h" x1="528.0" y1="330" x2="558.0" y2="300"/><line class="h" x1="533.5" y1="330" x2="563.5" y2="300"/><line class="h" x1="539.0" y1="330" x2="569.0" y2="300"/><line class="h" x1="544.5" y1="330" x2="574.5" y2="300"/><line class="h" x1="550.0" y1="330" x2="580.0" y2="300"/><line class="h" x1="555.5" y1="330" x2="585.5" y2="300"/><line class="h" x1="561.0" y1="330" x2="591.0" y2="300"/><line class="h" x1="566.5" y1="330" x2="596.5" y2="300"/><line class="h" x1="572.0" y1="330" x2="602.0" y2="300"/><line class="h" x1="577.5" y1="330" x2="607.5" y2="300"/><line class="h" x1="583.0" y1="330" x2="613.0" y2="300"/><line class="h" x1="588.5" y1="330" x2="618.5" y2="300"/><line class="h" x1="594.0" y1="330" x2="624.0" y2="300"/><line class="h" x1="599.5" y1="330" x2="629.5" y2="300"/><line class="h" x1="605.0" y1="330" x2="635.0" y2="300"/><line class="h" x1="610.5" y1="330" x2="640.5" y2="300"/><line class="h" x1="616.0" y1="330" x2="646.0" y2="300"/><line class="h" x1="621.5" y1="330" x2="651.5" y2="300"/><line class="h" x1="627.0" y1="330" x2="657.0" y2="300"/><line class="h" x1="632.5" y1="330" x2="662.5" y2="300"/><line class="h" x1="638.0" y1="330" x2="668.0" y2="300"/><line class="h" x1="643.5" y1="330" x2="673.5" y2="300"/><line class="h" x1="649.0" y1="330" x2="679.0" y2="300"/><line class="h" x1="654.5" y1="330" x2="684.5" y2="300"/></g>
<clipPath id="h5"><path d="M546,308 H535.5 L532.2,313.4 L536.6,317.4 L531.8,322.2 H546 Z"/></clipPath>
<g clip-path="url(#h5)"><line class="h" x1="-55.0" y1="330" x2="-25.0" y2="300"/><line class="h" x1="-49.5" y1="330" x2="-19.5" y2="300"/><line class="h" x1="-44.0" y1="330" x2="-14.0" y2="300"/><line class="h" x1="-38.5" y1="330" x2="-8.5" y2="300"/><line class="h" x1="-33.0" y1="330" x2="-3.0" y2="300"/><line class="h" x1="-27.5" y1="330" x2="2.5" y2="300"/><line class="h" x1="-22.0" y1="330" x2="8.0" y2="300"/><line class="h" x1="-16.5" y1="330" x2="13.5" y2="300"/><line class="h" x1="-11.0" y1="330" x2="19.0" y2="300"/><line class="h" x1="-5.5" y1="330" x2="24.5" y2="300"/><line class="h" x1="0.0" y1="330" x2="30.0" y2="300"/><line class="h" x1="5.5" y1="330" x2="35.5" y2="300"/><line class="h" x1="11.0" y1="330" x2="41.0" y2="300"/><line class="h" x1="16.5" y1="330" x2="46.5" y2="300"/><line class="h" x1="22.0" y1="330" x2="52.0" y2="300"/><line class="h" x1="27.5" y1="330" x2="57.5" y2="300"/><line class="h" x1="33.0" y1="330" x2="63.0" y2="300"/><line class="h" x1="38.5" y1="330" x2="68.5" y2="300"/><line class="h" x1="44.0" y1="330" x2="74.0" y2="300"/><line class="h" x1="49.5" y1="330" x2="79.5" y2="300"/><line class="h" x1="55.0" y1="330" x2="85.0" y2="300"/><line class="h" x1="60.5" y1="330" x2="90.5" y2="300"/><line class="h" x1="66.0" y1="330" x2="96.0" y2="300"/><line class="h" x1="71.5" y1="330" x2="101.5" y2="300"/><line class="h" x1="77.0" y1="330" x2="107.0" y2="300"/><line class="h" x1="82.5" y1="330" x2="112.5" y2="300"/><line class="h" x1="88.0" y1="330" x2="118.0" y2="300"/><line class="h" x1="93.5" y1="330" x2="123.5" y2="300"/><line class="h" x1="99.0" y1="330" x2="129.0" y2="300"/><line class="h" x1="104.5" y1="330" x2="134.5" y2="300"/><line class="h" x1="110.0" y1="330" x2="140.0" y2="300"/><line class="h" x1="115.5" y1="330" x2="145.5" y2="300"/><line class="h" x1="121.0" y1="330" x2="151.0" y2="300"/><line class="h" x1="126.5" y1="330" x2="156.5" y2="300"/><line class="h" x1="132.0" y1="330" x2="162.0" y2="300"/><line class="h" x1="137.5" y1="330" x2="167.5" y2="300"/><line class="h" x1="143.0" y1="330" x2="173.0" y2="300"/><line class="h" x1="148.5" y1="330" x2="178.5" y2="300"/><line class="h" x1="154.0" y1="330" x2="184.0" y2="300"/><line class="h" x1="159.5" y1="330" x2="189.5" y2="300"/><line class="h" x1="165.0" y1="330" x2="195.0" y2="300"/><line class="h" x1="170.5" y1="330" x2="200.5" y2="300"/><line class="h" x1="176.0" y1="330" x2="206.0" y2="300"/><line class="h" x1="181.5" y1="330" x2="211.5" y2="300"/><line class="h" x1="187.0" y1="330" x2="217.0" y2="300"/><line class="h" x1="192.5" y1="330" x2="222.5" y2="300"/><line class="h" x1="198.0" y1="330" x2="228.0" y2="300"/><line class="h" x1="203.5" y1="330" x2="233.5" y2="300"/><line class="h" x1="209.0" y1="330" x2="239.0" y2="300"/><line class="h" x1="214.5" y1="330" x2="244.5" y2="300"/><line class="h" x1="220.0" y1="330" x2="250.0" y2="300"/><line class="h" x1="225.5" y1="330" x2="255.5" y2="300"/><line class="h" x1="231.0" y1="330" x2="261.0" y2="300"/><line class="h" x1="236.5" y1="330" x2="266.5" y2="300"/><line class="h" x1="242.0" y1="330" x2="272.0" y2="300"/><line class="h" x1="247.5" y1="330" x2="277.5" y2="300"/><line class="h" x1="253.0" y1="330" x2="283.0" y2="300"/><line class="h" x1="258.5" y1="330" x2="288.5" y2="300"/><line class="h" x1="264.0" y1="330" x2="294.0" y2="300"/><line class="h" x1="269.5" y1="330" x2="299.5" y2="300"/><line class="h" x1="275.0" y1="330" x2="305.0" y2="300"/><line class="h" x1="280.5" y1="330" x2="310.5" y2="300"/><line class="h" x1="286.0" y1="330" x2="316.0" y2="300"/><line class="h" x1="291.5" y1="330" x2="321.5" y2="300"/><line class="h" x1="297.0" y1="330" x2="327.0" y2="300"/><line class="h" x1="302.5" y1="330" x2="332.5" y2="300"/><line class="h" x1="308.0" y1="330" x2="338.0" y2="300"/><line class="h" x1="313.5" y1="330" x2="343.5" y2="300"/><line class="h" x1="319.0" y1="330" x2="349.0" y2="300"/><line class="h" x1="324.5" y1="330" x2="354.5" y2="300"/><line class="h" x1="330.0" y1="330" x2="360.0" y2="300"/><line class="h" x1="335.5" y1="330" x2="365.5" y2="300"/><line class="h" x1="341.0" y1="330" x2="371.0" y2="300"/><line class="h" x1="346.5" y1="330" x2="376.5" y2="300"/><line class="h" x1="352.0" y1="330" x2="382.0" y2="300"/><line class="h" x1="357.5" y1="330" x2="387.5" y2="300"/><line class="h" x1="363.0" y1="330" x2="393.0" y2="300"/><line class="h" x1="368.5" y1="330" x2="398.5" y2="300"/><line class="h" x1="374.0" y1="330" x2="404.0" y2="300"/><line class="h" x1="379.5" y1="330" x2="409.5" y2="300"/><line class="h" x1="385.0" y1="330" x2="415.0" y2="300"/><line class="h" x1="390.5" y1="330" x2="420.5" y2="300"/><line class="h" x1="396.0" y1="330" x2="426.0" y2="300"/><line class="h" x1="401.5" y1="330" x2="431.5" y2="300"/><line class="h" x1="407.0" y1="330" x2="437.0" y2="300"/><line class="h" x1="412.5" y1="330" x2="442.5" y2="300"/><line class="h" x1="418.0" y1="330" x2="448.0" y2="300"/><line class="h" x1="423.5" y1="330" x2="453.5" y2="300"/><line class="h" x1="429.0" y1="330" x2="459.0" y2="300"/><line class="h" x1="434.5" y1="330" x2="464.5" y2="300"/><line class="h" x1="440.0" y1="330" x2="470.0" y2="300"/><line class="h" x1="445.5" y1="330" x2="475.5" y2="300"/><line class="h" x1="451.0" y1="330" x2="481.0" y2="300"/><line class="h" x1="456.5" y1="330" x2="486.5" y2="300"/><line class="h" x1="462.0" y1="330" x2="492.0" y2="300"/><line class="h" x1="467.5" y1="330" x2="497.5" y2="300"/><line class="h" x1="473.0" y1="330" x2="503.0" y2="300"/><line class="h" x1="478.5" y1="330" x2="508.5" y2="300"/><line class="h" x1="484.0" y1="330" x2="514.0" y2="300"/><line class="h" x1="489.5" y1="330" x2="519.5" y2="300"/><line class="h" x1="495.0" y1="330" x2="525.0" y2="300"/><line class="h" x1="500.5" y1="330" x2="530.5" y2="300"/><line class="h" x1="506.0" y1="330" x2="536.0" y2="300"/><line class="h" x1="511.5" y1="330" x2="541.5" y2="300"/><line class="h" x1="517.0" y1="330" x2="547.0" y2="300"/><line class="h" x1="522.5" y1="330" x2="552.5" y2="300"/><line class="h" x1="528.0" y1="330" x2="558.0" y2="300"/><line class="h" x1="533.5" y1="330" x2="563.5" y2="300"/><line class="h" x1="539.0" y1="330" x2="569.0" y2="300"/><line class="h" x1="544.5" y1="330" x2="574.5" y2="300"/><line class="h" x1="550.0" y1="330" x2="580.0" y2="300"/><line class="h" x1="555.5" y1="330" x2="585.5" y2="300"/><line class="h" x1="561.0" y1="330" x2="591.0" y2="300"/><line class="h" x1="566.5" y1="330" x2="596.5" y2="300"/><line class="h" x1="572.0" y1="330" x2="602.0" y2="300"/><line class="h" x1="577.5" y1="330" x2="607.5" y2="300"/><line class="h" x1="583.0" y1="330" x2="613.0" y2="300"/><line class="h" x1="588.5" y1="330" x2="618.5" y2="300"/><line class="h" x1="594.0" y1="330" x2="624.0" y2="300"/><line class="h" x1="599.5" y1="330" x2="629.5" y2="300"/><line class="h" x1="605.0" y1="330" x2="635.0" y2="300"/><line class="h" x1="610.5" y1="330" x2="640.5" y2="300"/><line class="h" x1="616.0" y1="330" x2="646.0" y2="300"/><line class="h" x1="621.5" y1="330" x2="651.5" y2="300"/><line class="h" x1="627.0" y1="330" x2="657.0" y2="300"/><line class="h" x1="632.5" y1="330" x2="662.5" y2="300"/><line class="h" x1="638.0" y1="330" x2="668.0" y2="300"/><line class="h" x1="643.5" y1="330" x2="673.5" y2="300"/><line class="h" x1="649.0" y1="330" x2="679.0" y2="300"/><line class="h" x1="654.5" y1="330" x2="684.5" y2="300"/></g>
<clipPath id="h6"><path d="M580.4,308 H587 Q593,308 593,314 V322.5 H580.4 Z"/></clipPath>
<g clip-path="url(#h6)"><line class="h" x1="-55.0" y1="330" x2="-25.0" y2="300"/><line class="h" x1="-49.5" y1="330" x2="-19.5" y2="300"/><line class="h" x1="-44.0" y1="330" x2="-14.0" y2="300"/><line class="h" x1="-38.5" y1="330" x2="-8.5" y2="300"/><line class="h" x1="-33.0" y1="330" x2="-3.0" y2="300"/><line class="h" x1="-27.5" y1="330" x2="2.5" y2="300"/><line class="h" x1="-22.0" y1="330" x2="8.0" y2="300"/><line class="h" x1="-16.5" y1="330" x2="13.5" y2="300"/><line class="h" x1="-11.0" y1="330" x2="19.0" y2="300"/><line class="h" x1="-5.5" y1="330" x2="24.5" y2="300"/><line class="h" x1="0.0" y1="330" x2="30.0" y2="300"/><line class="h" x1="5.5" y1="330" x2="35.5" y2="300"/><line class="h" x1="11.0" y1="330" x2="41.0" y2="300"/><line class="h" x1="16.5" y1="330" x2="46.5" y2="300"/><line class="h" x1="22.0" y1="330" x2="52.0" y2="300"/><line class="h" x1="27.5" y1="330" x2="57.5" y2="300"/><line class="h" x1="33.0" y1="330" x2="63.0" y2="300"/><line class="h" x1="38.5" y1="330" x2="68.5" y2="300"/><line class="h" x1="44.0" y1="330" x2="74.0" y2="300"/><line class="h" x1="49.5" y1="330" x2="79.5" y2="300"/><line class="h" x1="55.0" y1="330" x2="85.0" y2="300"/><line class="h" x1="60.5" y1="330" x2="90.5" y2="300"/><line class="h" x1="66.0" y1="330" x2="96.0" y2="300"/><line class="h" x1="71.5" y1="330" x2="101.5" y2="300"/><line class="h" x1="77.0" y1="330" x2="107.0" y2="300"/><line class="h" x1="82.5" y1="330" x2="112.5" y2="300"/><line class="h" x1="88.0" y1="330" x2="118.0" y2="300"/><line class="h" x1="93.5" y1="330" x2="123.5" y2="300"/><line class="h" x1="99.0" y1="330" x2="129.0" y2="300"/><line class="h" x1="104.5" y1="330" x2="134.5" y2="300"/><line class="h" x1="110.0" y1="330" x2="140.0" y2="300"/><line class="h" x1="115.5" y1="330" x2="145.5" y2="300"/><line class="h" x1="121.0" y1="330" x2="151.0" y2="300"/><line class="h" x1="126.5" y1="330" x2="156.5" y2="300"/><line class="h" x1="132.0" y1="330" x2="162.0" y2="300"/><line class="h" x1="137.5" y1="330" x2="167.5" y2="300"/><line class="h" x1="143.0" y1="330" x2="173.0" y2="300"/><line class="h" x1="148.5" y1="330" x2="178.5" y2="300"/><line class="h" x1="154.0" y1="330" x2="184.0" y2="300"/><line class="h" x1="159.5" y1="330" x2="189.5" y2="300"/><line class="h" x1="165.0" y1="330" x2="195.0" y2="300"/><line class="h" x1="170.5" y1="330" x2="200.5" y2="300"/><line class="h" x1="176.0" y1="330" x2="206.0" y2="300"/><line class="h" x1="181.5" y1="330" x2="211.5" y2="300"/><line class="h" x1="187.0" y1="330" x2="217.0" y2="300"/><line class="h" x1="192.5" y1="330" x2="222.5" y2="300"/><line class="h" x1="198.0" y1="330" x2="228.0" y2="300"/><line class="h" x1="203.5" y1="330" x2="233.5" y2="300"/><line class="h" x1="209.0" y1="330" x2="239.0" y2="300"/><line class="h" x1="214.5" y1="330" x2="244.5" y2="300"/><line class="h" x1="220.0" y1="330" x2="250.0" y2="300"/><line class="h" x1="225.5" y1="330" x2="255.5" y2="300"/><line class="h" x1="231.0" y1="330" x2="261.0" y2="300"/><line class="h" x1="236.5" y1="330" x2="266.5" y2="300"/><line class="h" x1="242.0" y1="330" x2="272.0" y2="300"/><line class="h" x1="247.5" y1="330" x2="277.5" y2="300"/><line class="h" x1="253.0" y1="330" x2="283.0" y2="300"/><line class="h" x1="258.5" y1="330" x2="288.5" y2="300"/><line class="h" x1="264.0" y1="330" x2="294.0" y2="300"/><line class="h" x1="269.5" y1="330" x2="299.5" y2="300"/><line class="h" x1="275.0" y1="330" x2="305.0" y2="300"/><line class="h" x1="280.5" y1="330" x2="310.5" y2="300"/><line class="h" x1="286.0" y1="330" x2="316.0" y2="300"/><line class="h" x1="291.5" y1="330" x2="321.5" y2="300"/><line class="h" x1="297.0" y1="330" x2="327.0" y2="300"/><line class="h" x1="302.5" y1="330" x2="332.5" y2="300"/><line class="h" x1="308.0" y1="330" x2="338.0" y2="300"/><line class="h" x1="313.5" y1="330" x2="343.5" y2="300"/><line class="h" x1="319.0" y1="330" x2="349.0" y2="300"/><line class="h" x1="324.5" y1="330" x2="354.5" y2="300"/><line class="h" x1="330.0" y1="330" x2="360.0" y2="300"/><line class="h" x1="335.5" y1="330" x2="365.5" y2="300"/><line class="h" x1="341.0" y1="330" x2="371.0" y2="300"/><line class="h" x1="346.5" y1="330" x2="376.5" y2="300"/><line class="h" x1="352.0" y1="330" x2="382.0" y2="300"/><line class="h" x1="357.5" y1="330" x2="387.5" y2="300"/><line class="h" x1="363.0" y1="330" x2="393.0" y2="300"/><line class="h" x1="368.5" y1="330" x2="398.5" y2="300"/><line class="h" x1="374.0" y1="330" x2="404.0" y2="300"/><line class="h" x1="379.5" y1="330" x2="409.5" y2="300"/><line class="h" x1="385.0" y1="330" x2="415.0" y2="300"/><line class="h" x1="390.5" y1="330" x2="420.5" y2="300"/><line class="h" x1="396.0" y1="330" x2="426.0" y2="300"/><line class="h" x1="401.5" y1="330" x2="431.5" y2="300"/><line class="h" x1="407.0" y1="330" x2="437.0" y2="300"/><line class="h" x1="412.5" y1="330" x2="442.5" y2="300"/><line class="h" x1="418.0" y1="330" x2="448.0" y2="300"/><line class="h" x1="423.5" y1="330" x2="453.5" y2="300"/><line class="h" x1="429.0" y1="330" x2="459.0" y2="300"/><line class="h" x1="434.5" y1="330" x2="464.5" y2="300"/><line class="h" x1="440.0" y1="330" x2="470.0" y2="300"/><line class="h" x1="445.5" y1="330" x2="475.5" y2="300"/><line class="h" x1="451.0" y1="330" x2="481.0" y2="300"/><line class="h" x1="456.5" y1="330" x2="486.5" y2="300"/><line class="h" x1="462.0" y1="330" x2="492.0" y2="300"/><line class="h" x1="467.5" y1="330" x2="497.5" y2="300"/><line class="h" x1="473.0" y1="330" x2="503.0" y2="300"/><line class="h" x1="478.5" y1="330" x2="508.5" y2="300"/><line class="h" x1="484.0" y1="330" x2="514.0" y2="300"/><line class="h" x1="489.5" y1="330" x2="519.5" y2="300"/><line class="h" x1="495.0" y1="330" x2="525.0" y2="300"/><line class="h" x1="500.5" y1="330" x2="530.5" y2="300"/><line class="h" x1="506.0" y1="330" x2="536.0" y2="300"/><line class="h" x1="511.5" y1="330" x2="541.5" y2="300"/><line class="h" x1="517.0" y1="330" x2="547.0" y2="300"/><line class="h" x1="522.5" y1="330" x2="552.5" y2="300"/><line class="h" x1="528.0" y1="330" x2="558.0" y2="300"/><line class="h" x1="533.5" y1="330" x2="563.5" y2="300"/><line class="h" x1="539.0" y1="330" x2="569.0" y2="300"/><line class="h" x1="544.5" y1="330" x2="574.5" y2="300"/><line class="h" x1="550.0" y1="330" x2="580.0" y2="300"/><line class="h" x1="555.5" y1="330" x2="585.5" y2="300"/><line class="h" x1="561.0" y1="330" x2="591.0" y2="300"/><line class="h" x1="566.5" y1="330" x2="596.5" y2="300"/><line class="h" x1="572.0" y1="330" x2="602.0" y2="300"/><line class="h" x1="577.5" y1="330" x2="607.5" y2="300"/><line class="h" x1="583.0" y1="330" x2="613.0" y2="300"/><line class="h" x1="588.5" y1="330" x2="618.5" y2="300"/><line class="h" x1="594.0" y1="330" x2="624.0" y2="300"/><line class="h" x1="599.5" y1="330" x2="629.5" y2="300"/><line class="h" x1="605.0" y1="330" x2="635.0" y2="300"/><line class="h" x1="610.5" y1="330" x2="640.5" y2="300"/><line class="h" x1="616.0" y1="330" x2="646.0" y2="300"/><line class="h" x1="621.5" y1="330" x2="651.5" y2="300"/><line class="h" x1="627.0" y1="330" x2="657.0" y2="300"/><line class="h" x1="632.5" y1="330" x2="662.5" y2="300"/><line class="h" x1="638.0" y1="330" x2="668.0" y2="300"/><line class="h" x1="643.5" y1="330" x2="673.5" y2="300"/><line class="h" x1="649.0" y1="330" x2="679.0" y2="300"/><line class="h" x1="654.5" y1="330" x2="684.5" y2="300"/></g>
</svg></body></html>
